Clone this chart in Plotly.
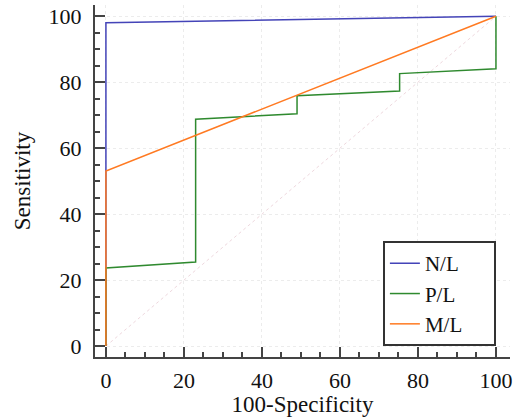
import plotly.graph_objects as go

# Data (100-Specificity, Sensitivity)
nl_x = [0, 0, 100]
nl_y = [0, 98, 100]
pl_x = [0, 0, 23, 23, 49, 49, 75.3, 75.3, 100, 100]
pl_y = [0, 23.7, 25.5, 68.8, 70.4, 75.9, 77.3, 82.6, 84.1, 100]
ml_x = [0, 0, 100]
ml_y = [0, 53.1, 100]
diag = [0, 100]
ticks = [0, 20, 40, 60, 80, 100]
names = ["N/L", "P/L", "M/L"]

FONT = "Liberation Serif, Times New Roman, serif"
PAD = "\u00a0" * 5

fig = go.Figure()
fig.add_trace(go.Scatter(x=diag, y=diag, mode="lines", showlegend=False,
                         line=dict(color="#eed8de", width=1, dash="dot"), hoverinfo="skip"))
fig.add_trace(go.Scatter(x=nl_x, y=nl_y, mode="lines", name=names[0] + PAD,
                         line=dict(color="#4444b8", width=1.5)))
fig.add_trace(go.Scatter(x=pl_x, y=pl_y, mode="lines", name=names[1] + PAD,
                         line=dict(color="#2f8a2f", width=1.5)))
fig.add_trace(go.Scatter(x=ml_x, y=ml_y, mode="lines", name=names[2] + PAD,
                         line=dict(color="#ff7a22", width=1.5)))

axis_common = dict(
    showline=True, linecolor="#444444", linewidth=2, mirror=False,
    ticks="inside", ticklen=10, tickwidth=2, tickcolor="#444444",
    tickvals=ticks, zeroline=False,
    showgrid=True, gridcolor="#ececec", griddash="dot", gridwidth=1,
    minor=dict(dtick=5, ticks="inside", ticklen=5, tickwidth=1.5,
               tickcolor="#444444", showgrid=False),
    tickfont=dict(family=FONT, size=22, color="#111111"),
)

fig.update_layout(
    width=521, height=417,
    margin=dict(l=95, r=11, t=5, b=60),
    paper_bgcolor="white", plot_bgcolor="white",
    font=dict(family=FONT, size=22, color="#111111"),
    xaxis=dict(range=[-2.8, 103.6], ticklabelstandoff=3,
               title=dict(text="100-Specificity", standoff=2,
               font=dict(family=FONT, size=23)), **axis_common),
    yaxis=dict(range=[-3.3, 103.4], ticklabelstandoff=7,
               title=dict(text="Sensitivity", standoff=12,
               font=dict(family=FONT, size=23)), **axis_common),
    legend=dict(x=0.966, y=0.031, xanchor="right", yanchor="bottom",
                bordercolor="#333333", borderwidth=2, bgcolor="white",
                font=dict(family=FONT, size=21, color="#111111"),
                tracegroupgap=0, itemwidth=30),
)

fig.write_html("out.html")
